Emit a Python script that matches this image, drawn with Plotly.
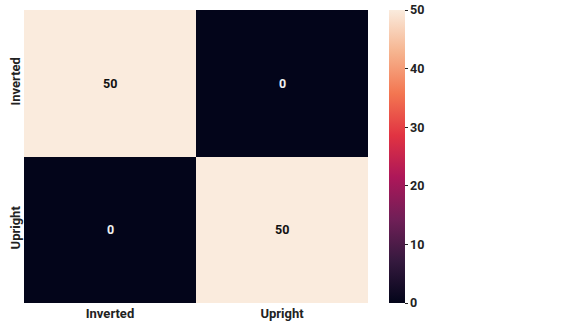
import plotly.graph_objects as go

x_labels = ["Inverted", "Upright"]
y_labels = ["Inverted", "Upright"]
z_values = [[50, 0],
            [0, 50]]
cbar_ticks = [0, 10, 20, 30, 40, 50]

rocket = [[0.0, '#03051A'], [1/7, '#35193e'], [2/7, '#701f57'], [3/7, '#ad1759'],
          [4/7, '#e13342'], [5/7, '#f37651'], [6/7, '#f6b48f'], [1.0, '#faebdd']]

font_family = "Roboto"

fig = go.Figure(go.Heatmap(
    z=z_values, x=x_labels, y=y_labels,
    colorscale=rocket, zmin=0, zmax=50,
    colorbar=dict(
        thickness=16, len=1.0, lenmode='fraction', y=0.5, yanchor='middle',
        x=1.061, xanchor='left', xpad=0, ypad=0, outlinewidth=0,
        tickvals=cbar_ticks, ticks='outside', ticklen=3, tickwidth=1, tickcolor='#222',
        tickfont=dict(family=font_family, size=12.5, color='#222', weight='bold'),
    ),
    hoverinfo='skip',
))

annotations = []
for i, yl in enumerate(y_labels):
    for j, xl in enumerate(x_labels):
        v = z_values[i][j]
        annotations.append(dict(
            x=xl, y=yl, text=str(v), showarrow=False,
            font=dict(family=font_family, size=12.5, weight='bold',
                      color='#111' if v > 25 else '#f0f0f0')))

fig.update_layout(
    width=587, height=322,
    margin=dict(l=24, r=219, t=10, b=19, autoexpand=False),
    paper_bgcolor='white', plot_bgcolor='white',
    annotations=annotations,
    xaxis=dict(showgrid=False, zeroline=False, ticks='', ticklen=0, ticklabelstandoff=1,
               automargin=False,
               tickfont=dict(family=font_family, size=13, color='#222', weight='bold')),
    yaxis=dict(showgrid=False, zeroline=False, autorange='reversed', tickangle=-90,
               ticks='', ticklen=0, ticklabelstandoff=0, automargin=False,
               tickfont=dict(family=font_family, size=13, color='#222', weight='bold')),
)

fig.write_html("out.html")
